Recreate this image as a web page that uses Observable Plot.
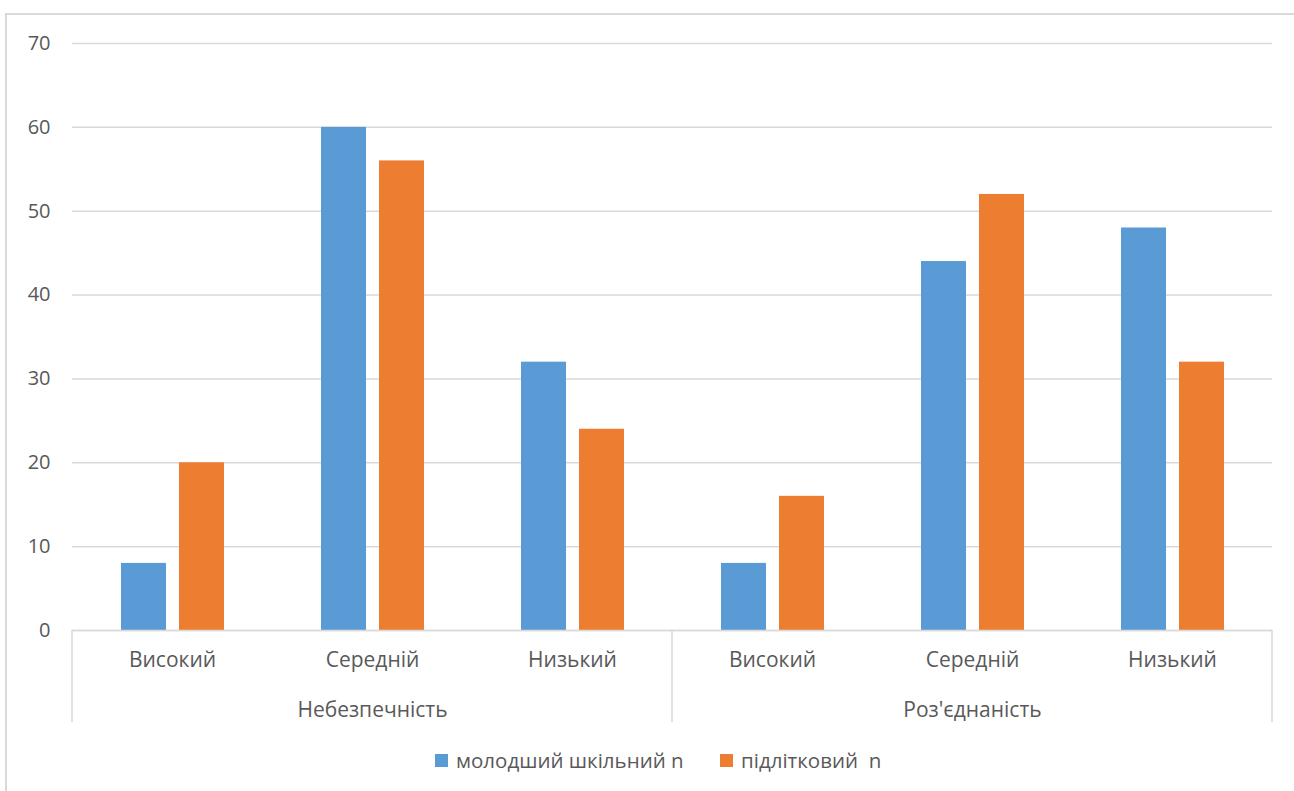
<!DOCTYPE html>
<html>
<head>
<meta charset="utf-8">
<script src="https://cdn.jsdelivr.net/npm/d3@7"></script>
<script src="https://cdn.jsdelivr.net/npm/@observablehq/plot@0.6"></script>
<style>
  html, body { margin: 0; padding: 0; background: #fff; }
  body { width: 1294px; height: 791px; overflow: hidden; position: relative; font-family: "Open Sans", sans-serif; }
  #frame { position: absolute; left: 5px; top: 13px; width: 1400px; height: 900px; border: 2px solid #d9d9d9; box-sizing: border-box; }
  #chart { position: absolute; left: 0; top: 0; }
  .lg { position: absolute; font-size: 20.5px; color: #595959; line-height: 1; white-space: pre; }
  .sw { position: absolute; width: 13px; height: 13px; }
</style>
</head>
<body>
<div id="frame"></div>
<div id="chart"></div>
<div id="legend"></div>
<script>
const groups = ["Небезпечність", "Роз'єднаність"];
const levels = ["Високий", "Середній", "Низький"];
const seriesNames = ["молодший шкільний n", "підлітковий  n"];
const youngerValues = [8, 60, 32, 8, 44, 48];
const teenValues = [20, 56, 24, 16, 52, 32];
const yTicks = [0, 10, 20, 30, 40, 50, 60, 70];
const colors = ["#5B9BD5", "#ED7D31"];

const keys = [];
groups.forEach(g => levels.forEach(l => keys.push(g + "|" + l)));
const rows = [];
keys.forEach((k, i) => {
  rows.push({key: k, series: seriesNames[0], value: youngerValues[i]});
  rows.push({key: k, series: seriesNames[1], value: teenValues[i]});
});
const textColor = "#595959";
const gridColor = "#d9d9d9";

const chart = Plot.plot({
  width: 1294,
  height: 735,
  marginTop: 43,
  marginLeft: 72,
  marginRight: 22,
  marginBottom: 105,
  style: {fontFamily: "Open Sans", fontSize: "21px", color: textColor, background: "transparent"},
  fx: {domain: keys, padding: 0, label: null},
  x: {domain: seriesNames, paddingInner: 13 / 58, paddingOuter: 0.836, axis: null},
  y: {domain: [0, 70], label: null},
  color: {domain: seriesNames, range: colors},
  marks: [
    Plot.gridY(yTicks, {stroke: gridColor, strokeOpacity: 1, strokeWidth: 1.5}),
    Plot.axisY(yTicks, {tickSize: 0, tickPadding: 22, fill: textColor, fontSize: 20}),
    Plot.barY(rows, {fx: "key", x: "series", y: "value", fill: "series"}),
    Plot.ruleY([0], {stroke: gridColor, strokeWidth: 1.5}),
    Plot.axisFx({anchor: "bottom", tickSize: 0, tickPadding: 22, fill: textColor, fontSize: 21, label: null,
      tickFormat: k => k.split("|")[1]}),
    Plot.axisFx({anchor: "bottom", tickSize: 0, tickPadding: 72, fill: textColor, fontSize: 21, label: null,
      tickFormat: k => k.split("|")[1] === levels[1] ? k.split("|")[0] : ""})
  ]
});
document.getElementById("chart").appendChild(chart);

// group separators below the category axis, positioned with the plot's own scales
const fx = chart.scale("fx");
const ys = chart.scale("y");
const y0 = ys.apply(0);
const bounds = [fx.apply(keys[0]), fx.apply(keys[3]), fx.apply(keys[5]) + fx.bandwidth];
const svg = d3.select(chart);
bounds.forEach(b => {
  svg.append("line")
    .attr("x1", b).attr("x2", b)
    .attr("y1", y0).attr("y2", y0 + 92)
    .attr("stroke", gridColor).attr("stroke-width", 1.5);
});

// legend
const legend = document.getElementById("legend");
const items = [{x: 435, name: seriesNames[0], c: colors[0]}, {x: 720, name: seriesNames[1], c: colors[1]}];
items.forEach(it => {
  const sw = document.createElement("div");
  sw.className = "sw"; sw.style.left = it.x + "px"; sw.style.top = "754px"; sw.style.background = it.c;
  legend.appendChild(sw);
  const t = document.createElement("div");
  t.className = "lg"; t.style.left = (it.x + 21) + "px"; t.style.top = "750px"; t.textContent = it.name;
  legend.appendChild(t);
});
</script>
</body>
</html>
